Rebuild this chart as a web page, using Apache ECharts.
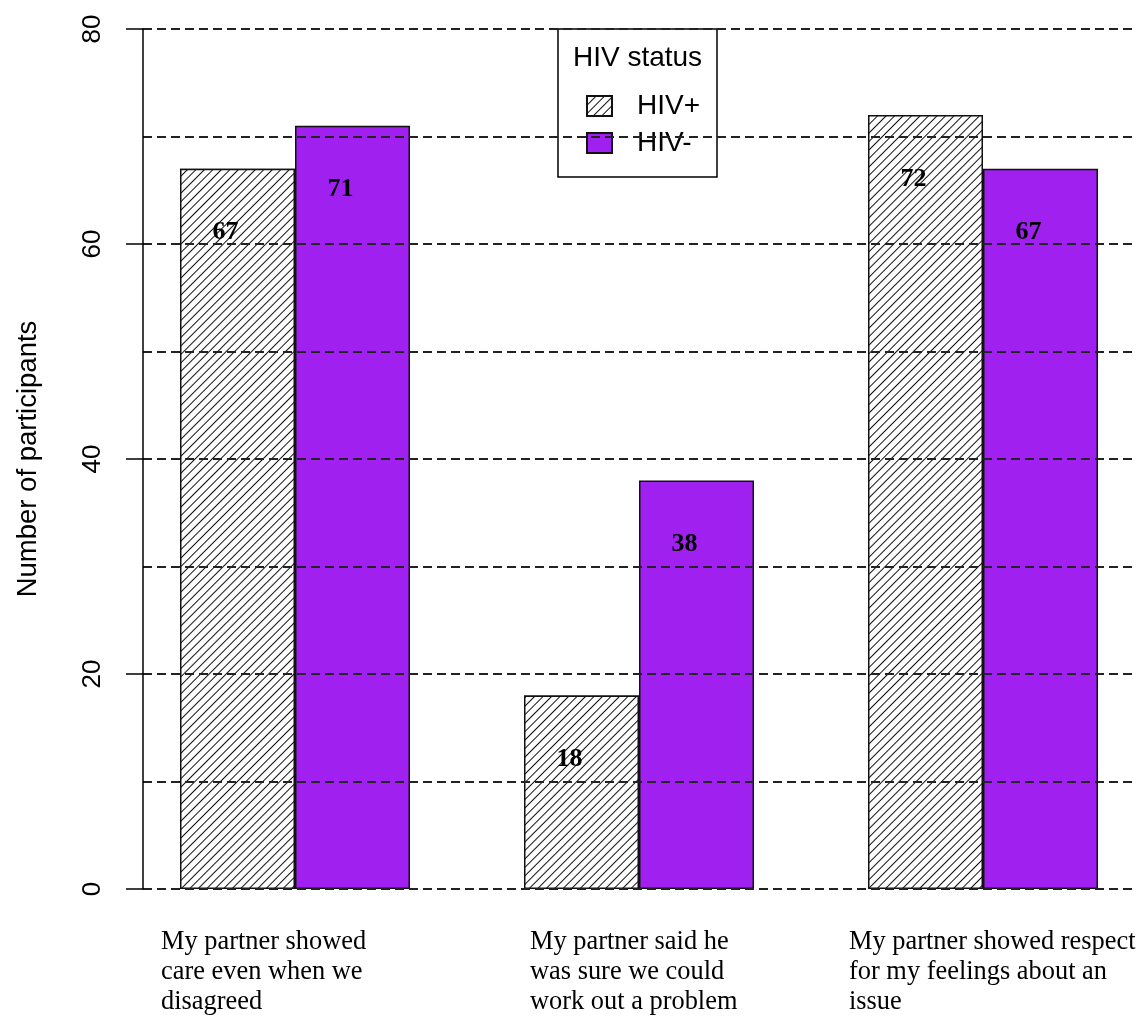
<!DOCTYPE html>
<html>
<head>
<meta charset="utf-8">
<script src="https://cdn.jsdelivr.net/npm/echarts@6/dist/echarts.min.js"></script>
<style>
  html, body { margin: 0; padding: 0; background: #fff; }
  #chart { width: 1141px; height: 1017px; }
</style>
</head>
<body>
<div id="chart"></div>
<script>
// data
const categories = [
  "My partner showed\ncare even when we\ndisagreed",
  "My partner said he\nwas sure we could\nwork out a problem",
  "My partner showed respect\nfor my feelings about an\nissue"
];
const hivPos = [67, 18, 72];
const hivNeg = [71, 38, 67];
const seriesNames = ["HIV+", "HIV-"];
const yTicks = [0, 20, 40, 60, 80];

const purple = "#A020F0";
const sans = "Liberation Sans, Arial, sans-serif";
const serif = "Liberation Serif, Times New Roman, serif";

const gridLine = { color: "#222", width: 1.8, type: [9, 5] };

const chart = echarts.init(document.getElementById("chart"));

const barLabel = {
  show: true,
  position: "insideTop",
  distance: 51,
  offset: [-12, 0],
  fontFamily: serif,
  fontWeight: "bold",
  fontSize: 26,
  color: "#000"
};

chart.setOption({
  animation: false,
  backgroundColor: "#fff",
  grid: [
    // axis + grid lines
    { left: 143, right: 7, top: 29, bottom: 128, outerBoundsMode: "none" },
    // bars
    { left: 123, width: 1032, top: 29, bottom: 128, outerBoundsMode: "none" },
    // category text (ticks at the left edge of each text block)
    { left: 161, width: 688, top: 29, bottom: 128, outerBoundsMode: "none" }
  ],
  xAxis: [
    { gridIndex: 0, type: "value", min: 0, max: 1, show: false },
    { gridIndex: 1, type: "category", data: categories, show: false },
    {
      gridIndex: 2,
      type: "category",
      data: categories,
      boundaryGap: false,
      axisLine: { show: false },
      axisTick: { show: false },
      splitLine: { show: false },
      axisLabel: {
        interval: 0,
        align: "left",
        margin: 38,
        fontFamily: serif,
        fontSize: 26.4,
        lineHeight: 30,
        color: "#000",
        formatter: (v, i) => i === 1
          ? v.split("\n").map(l => "{g|" + l + "}").join("\n")
          : v,
        rich: { g: { padding: [0, 0, 0, 25], fontFamily: serif, fontSize: 26.4, lineHeight: 30, color: "#000" } }
      }
    }
  ],
  yAxis: [
    {
      gridIndex: 0,
      type: "value",
      min: yTicks[0],
      max: yTicks[yTicks.length - 1],
      interval: 20,
      z: 10,
      name: "Number of participants",
      nameLocation: "middle",
      nameRotate: 90,
      nameGap: 101,
      nameTextStyle: { fontFamily: sans, fontSize: 27.5, color: "#000" },
      axisLine: { show: true, lineStyle: { color: "#000", width: 1.5 } },
      axisTick: { show: true, length: 17, lineStyle: { color: "#000", width: 1.5 } },
      axisLabel: { rotate: 90, margin: 37, fontFamily: sans, fontSize: 26, color: "#000" },
      splitLine: { show: true, lineStyle: gridLine },
      minorTick: { show: false, splitNumber: 2 },
      minorSplitLine: { show: true, lineStyle: gridLine }
    },
    { gridIndex: 1, type: "value", min: 0, max: 80, show: false },
    { gridIndex: 2, type: "value", min: 0, max: 80, show: false }
  ],
  legend: {
    orient: "vertical",
    left: 586,
    top: 92,
    padding: 0,
    z: 6,
    itemWidth: 25,
    itemHeight: 20,
    itemGap: 9,
    icon: "rect",
    data: seriesNames,
    textStyle: { fontFamily: sans, fontSize: 28, color: "#000", lineHeight: 20, padding: [0, 0, 0, 20] }
  },
  graphic: [
    {
      type: "rect",
      z: 5,
      shape: { x: 558, y: 29, width: 159, height: 148 },
      style: { fill: "#fff", stroke: "#000", lineWidth: 1.5 }
    },
    {
      type: "text",
      z: 6,
      x: 637.5,
      y: 58,
      style: { text: "HIV status", font: "28px " + sans, fill: "#000", textAlign: "center", textVerticalAlign: "middle" }
    }
  ],
  series: [
    {
      name: seriesNames[0],
      type: "bar",
      xAxisIndex: 1,
      yAxisIndex: 1,
      data: hivPos,
      barWidth: 115,
      barGap: "0%",
      z: 2,
      itemStyle: {
        color: "#fff",
        borderColor: "#111",
        borderWidth: 1.5,
        decal: {
          symbol: "rect",
          symbolSize: 1,
          color: "#111",
          backgroundColor: "#fff",
          dashArrayX: [1, 0],
          dashArrayY: [1, 5],
          rotation: -Math.PI / 4
        }
      },
      label: barLabel
    },
    {
      name: seriesNames[1],
      type: "bar",
      xAxisIndex: 1,
      yAxisIndex: 1,
      data: hivNeg,
      barWidth: 115,
      barGap: "0%",
      z: 2,
      itemStyle: { color: purple, borderColor: "#111", borderWidth: 1.5 },
      label: barLabel
    }
  ]
});
</script>
</body>
</html>
